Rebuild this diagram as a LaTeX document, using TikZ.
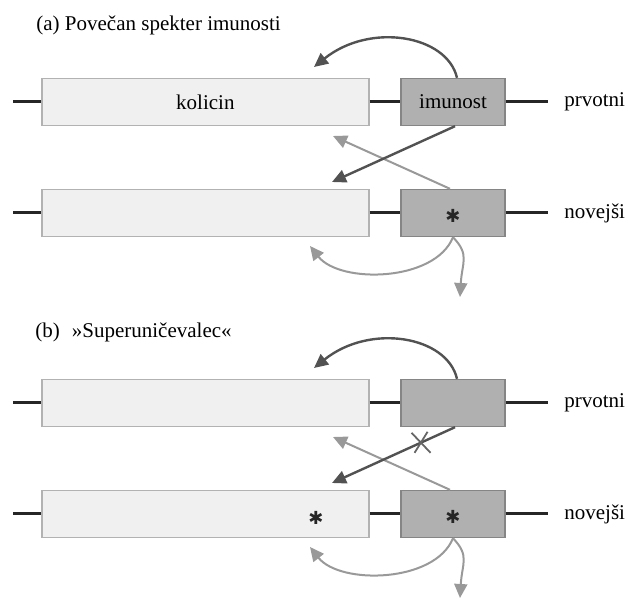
\documentclass[tikz,border=0pt]{standalone}
\usepackage{fontspec}
\setmainfont{Liberation Serif}
\newfontfamily\symfont{DejaVu Sans}
\usetikzlibrary{arrows.meta,positioning}

\begin{document}
\begin{tikzpicture}[x=0.5pt, y=-0.5pt,
	every node/.style={font=\fontsize{10.5}{12}\selectfont},
	gene/.style={draw=black!85, line width=1.5pt},
	kol/.style={draw=black!30, fill=black!6, line width=0.7pt, minimum width=163.6pt, minimum height=23.5pt, inner sep=0pt},
	imu/.style={draw=black!48, fill=black!31, line width=0.7pt, minimum width=52pt, minimum height=23.5pt, inner sep=0pt},
	tag/.style={inner sep=0pt},
	mut/.style={font=\symfont\fontsize{9}{9}\selectfont, text=black!85, inner sep=0pt},
	strong/.style={draw=black!68, line width=1.2pt, -{Triangle[length=7pt,width=6.5pt]}},
	weak/.style={draw=black!40, line width=1pt, -{Triangle[length=7pt,width=6.5pt]}},
	cut/.style={draw=black!60, line width=0.9pt}]
	
	\useasboundingbox (0,0) rectangle (628,599);
	
	% (a)
	\node[tag, anchor=west] (titA) at (36,25) {(a)\ Povečan spekter imunosti};
	
	\node[kol] (kolA1) at (205.4,102) {kolicin};
	\node[imu] (imuA1) at (453,102) {imunost};
	\coordinate (sA1) at (13,102);
	\coordinate (eA1) at (548,102);
	\draw[gene] (sA1) -- (kolA1.west) (kolA1.east) -- (imuA1.west) (imuA1.east) -- (eA1);
	\node[tag, right=8pt of eA1] (labA1) {prvotni};
	
	\node[kol] (kolA2) at (205.4,213) {};
	\node[imu] (imuA2) at (453,213) {};
	\node[mut] (mA2) at ([yshift=-1.5pt]imuA2.center) {✱};
	\coordinate (sA2) at (13,213);
	\coordinate (eA2) at (548,213);
	\draw[gene] (sA2) -- (kolA2.west) (kolA2.east) -- (imuA2.west) (imuA2.east) -- (eA2);
	\node[tag, right=8pt of eA2] (labA2) {novejši};
	
	\coordinate (tA1) at (314,67);
	\coordinate (tA2) at (332,182);
	\coordinate (tA3) at (333,136);
	\coordinate (tA4) at (310,246);
	\coordinate (tA5) at (460,297);
	\draw[strong] ([xshift=2pt]imuA1.north) .. controls (447,35) and (370,22) .. (tA1);
	\draw[weak] ([xshift=-1.5pt]imuA2.north) -- (tA3);
	\draw[strong] ([xshift=1pt]imuA1.south) -- (tA2);
	\draw[weak] (imuA2.south) .. controls (435,282) and (340,284) .. (tA4);
	\draw[weak] (imuA2.south) .. controls (470,255) and (462,262) .. (tA5);
	
	% (b)
	\node[tag, anchor=west] (titB) at (35,332) {(b)\hspace{6pt}»Superuničevalec«};
	
	\node[kol] (kolB1) at (205.4,403) {};
	\node[imu] (imuB1) at (453,403) {};
	\coordinate (sB1) at (13,403);
	\coordinate (eB1) at (548,403);
	\draw[gene] (sB1) -- (kolB1.west) (kolB1.east) -- (imuB1.west) (imuB1.east) -- (eB1);
	\node[tag, right=8pt of eB1] (labB1) {prvotni};
	
	\node[kol] (kolB2) at (205.4,514) {};
	\node[imu] (imuB2) at (453,514) {};
	\node[mut] (mB1) at (316,518) {✱};
	\node[mut] (mB2) at ([yshift=-1.5pt]imuB2.center) {✱};
	\coordinate (sB2) at (13,514);
	\coordinate (eB2) at (548,514);
	\draw[gene] (sB2) -- (kolB2.west) (kolB2.east) -- (imuB2.west) (imuB2.east) -- (eB2);
	\node[tag, right=8pt of eB2] (labB2) {novejši};
	
	\coordinate (tB1) at (314,368);
	\coordinate (tB2) at (332,483);
	\coordinate (tB3) at (333,437);
	\coordinate (tB4) at (310,547);
	\coordinate (tB5) at (460,598);
	\draw[strong] ([xshift=2pt]imuB1.north) .. controls (447,336) and (370,323) .. (tB1);
	\draw[weak] ([xshift=-1.5pt]imuB2.north) -- (tB3);
	\draw[strong] ([xshift=1pt]imuB1.south) -- coordinate[pos=0.28] (xB) (tB2);
	\draw[cut] ([shift={(-9,-10)}]xB) -- ([shift={(10,10)}]xB) ([shift={(-6,10)}]xB) -- ([shift={(7,-11)}]xB);
	\draw[weak] (imuB2.south) .. controls (435,583) and (340,585) .. (tB4);
	\draw[weak] (imuB2.south) .. controls (470,556) and (462,563) .. (tB5);
\end{tikzpicture}
\end{document}
